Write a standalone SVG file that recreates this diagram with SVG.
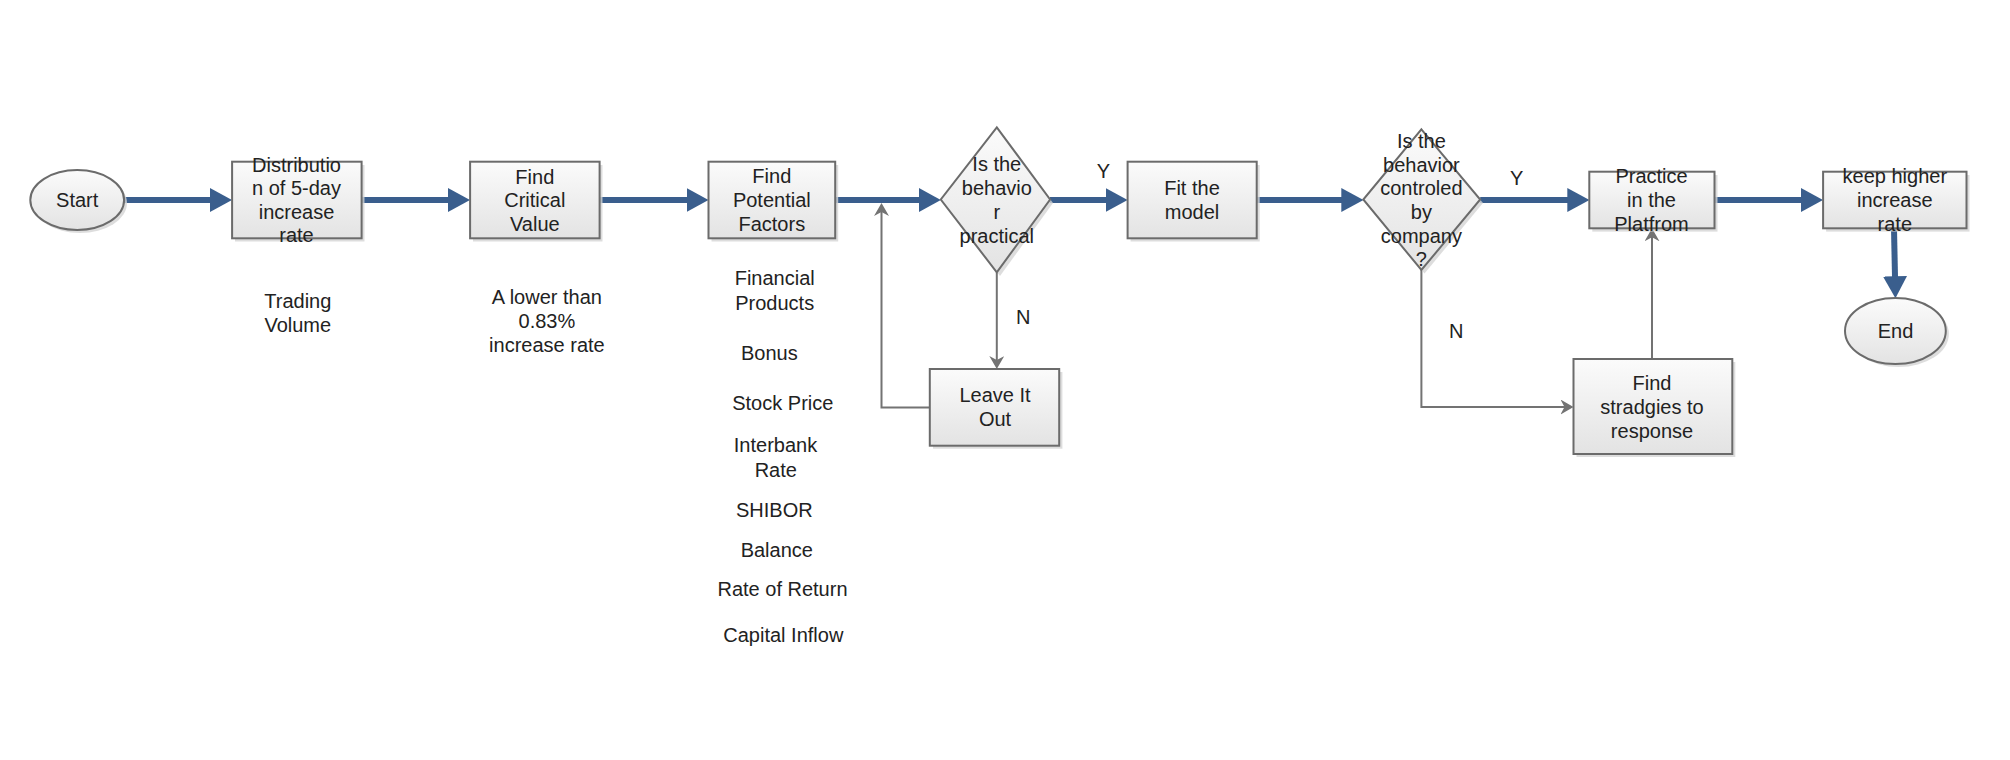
<svg xmlns="http://www.w3.org/2000/svg" width="2010" height="760" viewBox="0 0 2010 760">
<style>
text{font-family:"Liberation Sans",Arial,sans-serif;font-size:20px;fill:#222;text-anchor:middle}
.box{fill:url(#g);stroke:#6b6b6b;stroke-width:2}
.sh{fill:#d4d4d4;opacity:.8}
.main{fill:none;stroke:#3a5e8d;stroke-width:6}
.side{fill:none;stroke:#737373;stroke-width:2}
</style>
<defs>
<linearGradient id="g" x1="0" y1="0" x2="0" y2="1">
<stop offset="0" stop-color="#fbfbfb"/>
<stop offset="1" stop-color="#e3e3e3"/>
</linearGradient>
<marker id="ab" markerUnits="userSpaceOnUse" markerWidth="22" markerHeight="24" refX="10" refY="12" orient="auto">
<path d="M0,0 L22,12 L0,24 z" fill="#3a5e8d"/>
</marker>
<marker id="ag" markerUnits="userSpaceOnUse" markerWidth="13" markerHeight="15" refX="9" refY="7.5" orient="auto">
<path d="M0,0 L13,7.5 L0,15 L4,7.5 z" fill="#737373"/>
</marker>
</defs>
<rect width="2010" height="760" fill="#fff"/>

<g id="connectors">
<path class="main" d="M124,200 H220" marker-end="url(#ab)"/>
<path class="main" d="M361.6,200 H458" marker-end="url(#ab)"/>
<path class="main" d="M599.6,200 H696.5" marker-end="url(#ab)"/>
<path class="main" d="M835.2,200 H928.8" marker-end="url(#ab)"/>
<path class="main" d="M1050,200 H1115.6" marker-end="url(#ab)"/>
<path class="main" d="M1256.7,200 H1351.3" marker-end="url(#ab)"/>
<path class="main" d="M1480.2,200 H1577.3" marker-end="url(#ab)"/>
<path class="main" d="M1714.5,200 H1811" marker-end="url(#ab)"/>
<path class="main" d="M1894,228.3 L1895.2,286.3" marker-end="url(#ab)"/>
<path class="side" d="M996.8,272.3 V365" marker-end="url(#ag)"/>
<path class="side" d="M929.8,407.5 H881.5 V207" marker-end="url(#ag)"/>
<path class="side" d="M1421.4,270 V407 H1569.5" marker-end="url(#ag)"/>
<path class="side" d="M1652,359 V232.3" marker-end="url(#ag)"/>
<text x="1103.3" y="178.3">Y</text>
<text x="1023.3" y="324">N</text>
<text x="1516.7" y="185">Y</text>
<text x="1456.2" y="337.7">N</text>
</g>

<g id="start">
<ellipse class="sh" cx="80" cy="203" rx="47" ry="30"/>
<ellipse class="box" cx="77.2" cy="200" rx="46.9" ry="30"/>
<text x="77.2" y="207">Start</text>
</g>

<g id="distribution">
<rect class="sh" x="235" y="165" width="129.5" height="76.5"/>
<rect class="box" x="232.1" y="161.7" width="129.5" height="76.6"/>
<text x="296.5"><tspan x="296.5" y="172">Distributio</tspan><tspan x="296.5" y="195">n of 5-day</tspan><tspan x="296.5" y="218.5">increase</tspan><tspan x="296.5" y="242">rate</tspan></text>
</g>

<g id="critical">
<rect class="sh" x="473" y="165" width="129.5" height="76.5"/>
<rect class="box" x="470.1" y="161.7" width="129.5" height="76.6"/>
<text x="534.8"><tspan x="534.8" y="183.5">Find</tspan><tspan x="534.8" y="207">Critical</tspan><tspan x="534.8" y="230.5">Value</tspan></text>
</g>

<g id="potential">
<rect class="sh" x="711.5" y="165" width="126.7" height="76.5"/>
<rect class="box" x="708.5" y="161.7" width="126.7" height="76.6"/>
<text x="771.8"><tspan x="771.8" y="183">Find</tspan><tspan x="771.8" y="206.7">Potential</tspan><tspan x="771.8" y="230.5">Factors</tspan></text>
</g>

<g id="practical">
<polygon class="sh" points="1000,131 1053,203 1000,276 944,203"/>
<polygon class="box" points="996.8,127.3 1050.1,199.5 996.8,272.3 940.8,199.5"/>
<text x="996.8"><tspan x="996.8" y="171">Is the</tspan><tspan x="996.8" y="195">behavio</tspan><tspan x="996.8" y="219">r</tspan><tspan x="996.8" y="242.5">practical</tspan></text>
</g>

<g id="leave">
<rect class="sh" x="933" y="372" width="129.4" height="76.7"/>
<rect class="box" x="929.8" y="369" width="129.4" height="76.7"/>
<text x="995"><tspan x="995" y="402">Leave It</tspan><tspan x="995" y="426">Out</tspan></text>
</g>

<g id="fit">
<rect class="sh" x="1130.6" y="165" width="129.1" height="76.5"/>
<rect class="box" x="1127.6" y="161.7" width="129.1" height="76.6"/>
<text x="1192"><tspan x="1192" y="195">Fit the</tspan><tspan x="1192" y="218.5">model</tspan></text>
</g>

<g id="controled">
<polygon class="sh" points="1424.5,133 1483,203 1424.5,273.5 1366.5,203"/>
<polygon class="box" points="1421.4,129.3 1480.2,199.5 1421.4,270 1363.3,199.5"/>
<text x="1421.4"><tspan x="1421.4" y="148">Is the</tspan><tspan x="1421.4" y="171.5">behavior</tspan><tspan x="1421.4" y="195">controled</tspan><tspan x="1421.4" y="218.5">by</tspan><tspan x="1421.4" y="242.5">company</tspan><tspan x="1421.4" y="266">?</tspan></text>
</g>

<g id="practice">
<rect class="sh" x="1592.3" y="175" width="125.2" height="56.6"/>
<rect class="box" x="1589.3" y="171.7" width="125.2" height="56.6"/>
<text x="1651.5"><tspan x="1651.5" y="183">Practice</tspan><tspan x="1651.5" y="207">in the</tspan><tspan x="1651.5" y="230.5">Platfrom</tspan></text>
</g>

<g id="keep">
<rect class="sh" x="1826.1" y="175" width="143.4" height="56.6"/>
<rect class="box" x="1823.1" y="171.7" width="143.4" height="56.6"/>
<text x="1894.8"><tspan x="1894.8" y="183">keep higher</tspan><tspan x="1894.8" y="207">increase</tspan><tspan x="1894.8" y="230.5">rate</tspan></text>
</g>

<g id="end">
<ellipse class="sh" cx="1898.5" cy="334" rx="50.4" ry="33"/>
<ellipse class="box" cx="1895.4" cy="331" rx="50.4" ry="33"/>
<text x="1895.5" y="338">End</text>
</g>

<g id="stradgies">
<rect class="sh" x="1576.5" y="362" width="158.8" height="95"/>
<rect class="box" x="1573.5" y="359" width="158.8" height="95"/>
<text x="1652"><tspan x="1652" y="389.5">Find</tspan><tspan x="1652" y="414">stradgies to</tspan><tspan x="1652" y="438">response</tspan></text>
</g>

<g id="annotations">
<text x="297.8"><tspan x="297.8" y="308.3">Trading</tspan><tspan x="297.8" y="331.7">Volume</tspan></text>
<text x="546.9"><tspan x="546.9" y="304.3">A lower than</tspan><tspan x="546.9" y="328.3">0.83%</tspan><tspan x="546.9" y="351.7">increase rate</tspan></text>
<text x="774.7"><tspan x="774.7" y="285">Financial</tspan><tspan x="774.7" y="310">Products</tspan></text>
<text x="769.3" y="360">Bonus</text>
<text x="782.8" y="410">Stock Price</text>
<text x="775.5"><tspan x="775.5" y="452.3">Interbank</tspan><tspan x="775.8" y="476.7">Rate</tspan></text>
<text x="774.3" y="516.7">SHIBOR</text>
<text x="776.8" y="557.3">Balance</text>
<text x="782.5" y="596">Rate of Return</text>
<text x="783.3" y="642">Capital Inflow</text>
</g>
</svg>
